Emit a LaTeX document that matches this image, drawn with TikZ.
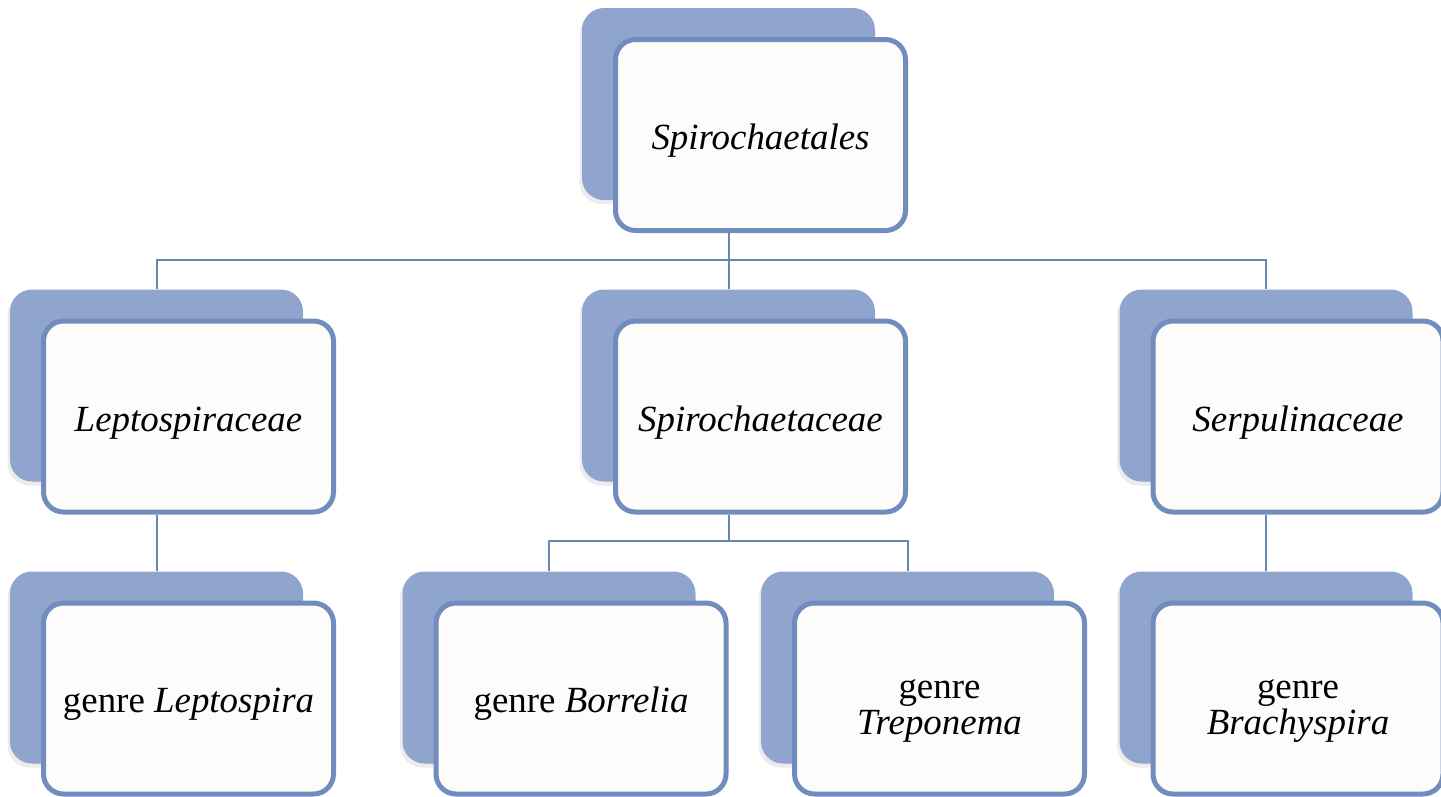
\documentclass[tikz,border=0pt]{standalone}
\usepackage{fontspec}
\setmainfont{Liberation Serif}
\usetikzlibrary{calc, shadows}
\definecolor{backblue}{RGB}{143,165,206}
\definecolor{edgeblue}{RGB}{112,141,189}
\definecolor{boxwhite}{RGB}{253,252,250}
\definecolor{linkblue}{RGB}{108,134,180}
\newcommand\lift{\rule{0pt}{25pt}}

\begin{document}
\begin{tikzpicture}[back/.style={fill=backblue, rounded corners=0.44cm, minimum width=5.86cm, minimum height=3.84cm,
                        drop shadow={shadow xshift=-0.05cm, shadow yshift=-0.08cm, opacity=0.15}},
                    front/.style={draw=edgeblue, line width=0.1cm, fill=boxwhite, rounded corners=0.4cm, inner sep=0pt,
                        minimum width=5.8cm, minimum height=3.82cm, align=center, font=\fontsize{21}{20.5}\selectfont,
                        execute at begin node={\rule{0pt}{21pt}}},
                    link/.style={draw=linkblue, line width=0.04cm}]
                \path[use as bounding box, clip] (0,0) rectangle (28.82,-15.92);
                % order
                \node[back] (spiroB) at (14.57,-2.08) {};
                \node[front] (spiro) at ($(spiroB)+(0.64,-0.62)$) {\textit{Spirochaetales}};
                % families
                \node[back] (leptoB) at (3.13,-7.71) {};
                \node[front] (lepto) at ($(leptoB)+(0.64,-0.62)$) {\textit{Leptospiraceae}};
                \node[back] (spirocB) at (14.57,-7.71) {};
                \node[front] (spiroc) at ($(spirocB)+(0.64,-0.62)$) {\textit{Spirochaetaceae}};
                \node[back] (serpB) at (25.32,-7.71) {};
                \node[front] (serp) at ($(serpB)+(0.64,-0.62)$) {\textit{Serpulinaceae}};
                % genera
                \node[back] (leptogB) at (3.13,-13.35) {};
                \node[front] (leptog) at ($(leptogB)+(0.64,-0.62)$) {genre \textit{Leptospira}};
                \node[back] (borrB) at (10.98,-13.35) {};
                \node[front] (borr) at ($(borrB)+(0.64,-0.62)$) {genre \textit{Borrelia}};
                \node[back] (trepB) at (18.15,-13.35) {};
                \node[front] (trep) at ($(trepB)+(0.64,-0.62)$) {\lift genre\\\textit{Treponema}};
                \node[back] (brachB) at (25.32,-13.35) {};
                \node[front] (brach) at ($(brachB)+(0.64,-0.62)$) {\lift genre\\\textit{Brachyspira}};
                % links
                \coordinate (bar1) at (0,-5.2);
                \coordinate (bar2) at (0,-10.82);
                \draw[link] (spiro.south -| spiroB) -- (spiroB |- bar1) -| (leptoB.north);
                \draw[link] (spiroB |- bar1) -| (serpB.north);
                \draw[link] (spiroB |- bar1) -- (spirocB.north);
                \draw[link] (lepto.south -| leptoB) -- (leptogB.north);
                \draw[link] (spiroc.south -| spirocB) -- (spirocB |- bar2) -| (borrB.north);
                \draw[link] (spirocB |- bar2) -| (trepB.north);
                \draw[link] (serp.south -| serpB) -- (brachB.north);
\end{tikzpicture}
\end{document}
